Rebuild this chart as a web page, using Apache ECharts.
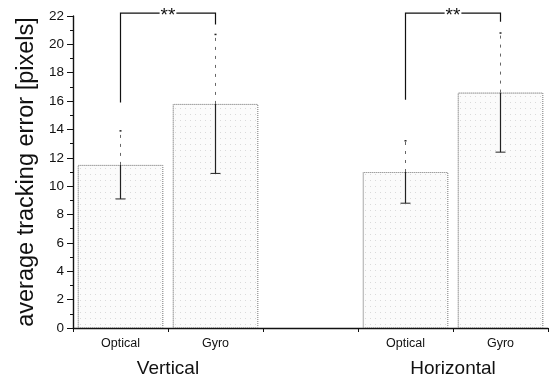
<!DOCTYPE html>
<html lang="en">

<head>
    <meta charset="UTF-8">
    <title>Tracking error</title>
    <style>
        html,
        body,
        #echarts {
            margin: 0px;
            padding: 0px;
            width: 100%;
            height: 100%;
            background: #fff;
        }
    </style>
</head>

<body>
    <div id="echarts"></div>
    <script src="https://cdn.jsdelivr.net/npm/echarts@6/dist/echarts.min.js"></script>
    <script>
        // categories (third slot is the empty gap between the two groups)
        var categories = ['Optical', 'Gyro', '', 'Optical', 'Gyro'];
        // group labels sit on the boundary between each pair of bars
        var groups = ['Vertical', 'Horizontal'];
        var groupPos = [1, 4];
        // mean tracking error
        var means = [11.5, 15.8, null, 11.0, 16.6];
        // error bar half-width
        var errors = [2.4, 4.9, null, 2.2, 4.2];
        // significance brackets: [left cat, right cat, left leg bottom, right leg bottom, top]
        var brackets = [
            [0, 1, 15.9, 21.4, 22.2],
            [3, 4, 16.1, 21.6, 22.2]
        ];
        var yTicks = { min: 0, max: 22, interval: 2 };

        var myChart = echarts.init(document.getElementById('echarts'));

        var errData = [];
        for (var i = 0; i < means.length; i++) {
            if (means[i] == null) continue;
            errData.push([i, means[i] - errors[i], means[i] + errors[i], means[i]]);
        }

        var font = 'Liberation Sans, Arial, sans-serif';

        myChart.setOption({
            animation: false,
            grid: { left: 73, right: 4, top: 16, bottom: 53 },
            xAxis: [{
                type: 'category',
                data: categories,
                axisLine: { lineStyle: { color: '#111', width: 1.4 } },
                axisTick: { show: true, length: 4, inside: false, lineStyle: { color: '#111' } },
                axisLabel: { color: '#111', fontSize: 12.5, fontFamily: font, margin: 9 },
                splitLine: { show: false }
            }, {
                type: 'value',
                position: 'bottom',
                min: 0,
                max: 5,
                interval: 1,
                axisLine: { show: false },
                axisTick: { show: false },
                splitLine: { show: false },
                axisLabel: {
                    color: '#111', fontSize: 19, fontFamily: font, margin: 31,
                    formatter: function (v) {
                        var k = groupPos.indexOf(v);
                        return k >= 0 ? groups[k] : '';
                    }
                }
            }],
            yAxis: {
                type: 'value',
                min: yTicks.min,
                max: yTicks.max,
                interval: yTicks.interval,
                name: 'average tracking error [pixels]',
                nameLocation: 'middle',
                nameGap: 34,
                nameTextStyle: { color: '#111', fontSize: 23.5, fontFamily: font },
                axisLine: { show: true, lineStyle: { color: '#111', width: 1.4 } },
                axisTick: { show: true, length: 6, lineStyle: { color: '#111' } },
                minorTick: { show: true, splitNumber: 2, length: 3, lineStyle: { color: '#111' } },
                axisLabel: { color: '#111', fontSize: 13.5, fontFamily: font, margin: 9 },
                splitLine: { show: false }
            },
            series: [{
                type: 'bar',
                data: means,
                barWidth: '90%',
                itemStyle: {
                    color: '#fbfbfb',
                    borderColor: '#9a9a9a',
                    borderWidth: 1,
                    borderType: 'dotted',
                    decal: {
                        symbol: 'rect',
                        symbolSize: 1,
                        dashArrayX: [1, 4],
                        dashArrayY: [1, 5],
                        color: 'rgba(0,0,0,0.13)'
                    }
                }
            }, {
                type: 'custom',
                data: errData,
                z: 5,
                renderItem: function (params, api) {
                    var lo = api.coord([api.value(0), api.value(1)]);
                    var hi = api.coord([api.value(0), api.value(2)]);
                    var mid = api.coord([api.value(0), api.value(3)]);
                    var w = 5;
                    return {
                        type: 'group',
                        children: [{
                            type: 'line',
                            shape: { x1: mid[0], y1: lo[1], x2: mid[0], y2: mid[1] },
                            style: { stroke: '#222', lineWidth: 1.2 }
                        }, {
                            type: 'line',
                            shape: { x1: mid[0], y1: mid[1], x2: mid[0], y2: hi[1] },
                            style: { stroke: '#666', lineWidth: 1, lineDash: [3, 6] }
                        }, {
                            type: 'line',
                            shape: { x1: lo[0] - w, y1: lo[1], x2: lo[0] + w, y2: lo[1] },
                            style: { stroke: '#222', lineWidth: 1 }
                        }, {
                            type: 'line',
                            shape: { x1: hi[0] - 1, y1: hi[1], x2: hi[0] + 1, y2: hi[1] },
                            style: { stroke: '#222', lineWidth: 1.5 }
                        }]
                    };
                }
            }, {
                type: 'custom',
                data: brackets,
                z: 6,
                clip: false,
                renderItem: function (params, api) {
                    var a = api.coord([api.value(0), api.value(2)]);
                    var b = api.coord([api.value(1), api.value(3)]);
                    var top = api.coord([api.value(0), api.value(4)])[1];
                    return {
                        type: 'group',
                        children: [{
                            type: 'polyline',
                            shape: { points: [[a[0], a[1]], [a[0], top], [b[0], top], [b[0], b[1]]] },
                            style: { stroke: '#111', lineWidth: 1.2, fill: null }
                        }, {
                            type: 'text',
                            x: (a[0] + b[0]) / 2,
                            y: top + 3,
                            style: {
                                text: '**', fill: '#111', fontSize: 19, fontFamily: font,
                                align: 'center', verticalAlign: 'middle',
                                backgroundColor: '#fff', padding: [0, 1]
                            }
                        }]
                    };
                }
            }]
        });

        window.addEventListener("resize", function () {
            myChart.resize();
        });
    </script>
</body>

</html>
